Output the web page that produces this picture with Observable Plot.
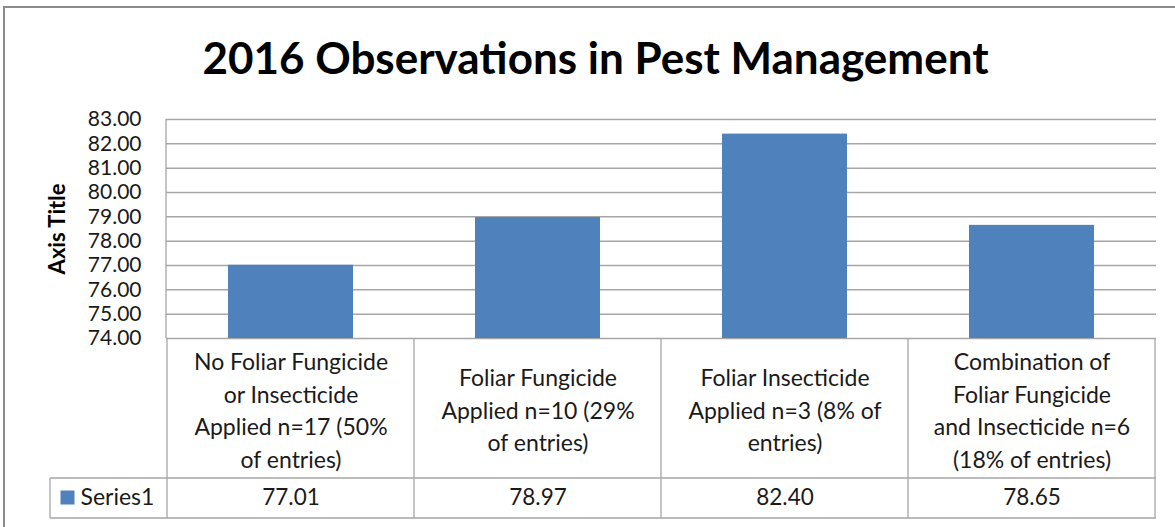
<!DOCTYPE html>
<html>
<head>
<meta charset="utf-8">
<script src="https://cdn.jsdelivr.net/npm/d3@7"></script>
<script src="https://cdn.jsdelivr.net/npm/@observablehq/plot@0.6"></script>
<style>
  html, body { margin: 0; padding: 0; background: #fff; overflow: hidden; }
  #wrap { position: relative; width: 1175px; height: 527px; }
  #border { position: absolute; left: 3px; top: 6px; width: 1300px; height: 700px; border: 2px solid #8c8c8c; box-sizing: border-box; }
  #chart { position: absolute; left: 0; top: 0; }
</style>
</head>
<body>
<div id="wrap"><div id="border"></div><div id="chart"></div></div>
<script>
const title = "2016 Observations in Pest Management";
const axisTitle = "Axis Title";
const seriesName = "Series1";
const categories = [
  "No Foliar Fungicide\nor Insecticide\nApplied n=17 (50%\nof entries)",
  "Foliar Fungicide\nApplied n=10 (29%\nof entries)",
  "Foliar Insecticide\nApplied n=3 (8% of\nentries)",
  "Combination of\nFoliar Fungicide\nand Insecticide n=6\n(18% of entries)"
];
const values = [77.01, 78.97, 82.40, 78.65];
const yTicks = [74, 75, 76, 77, 78, 79, 80, 81, 82, 83];

const data = categories.map((c, i) => ({category: c, value: values[i]}));

const gridColor = "#a6a6a6";
const barColor = "#4f81bd";
const textColor = "#1a1a1a";

const ROW1 = 140, ROW2 = 180, LEFTCELL = 116;

function tableLines(index, scales, values, dims) {
  const {x} = scales;
  const bw = x.bandwidth();
  const y0 = dims.height - dims.marginBottom;
  const xl = dims.marginLeft, xr = dims.width - dims.marginRight;
  const g = document.createElementNS("http://www.w3.org/2000/svg", "g");
  g.setAttribute("stroke", gridColor);
  g.setAttribute("stroke-width", "1.3");
  g.setAttribute("fill", "none");
  const segs = [];
  segs.push([xl, dims.marginTop, xl, y0]);
  const edges = categories.map(c => x(c)).concat([x(categories[categories.length - 1]) + bw]);
  for (const e of edges) segs.push([e, y0, e, y0 + ROW2]);
  segs.push([xl - LEFTCELL, y0 + ROW1, xr, y0 + ROW1]);
  segs.push([xl - LEFTCELL, y0 + ROW2, xr, y0 + ROW2]);
  segs.push([xl - LEFTCELL, y0 + ROW1, xl - LEFTCELL, y0 + ROW2]);
  for (const [x1, y1, x2, y2] of segs) {
    const l = document.createElementNS("http://www.w3.org/2000/svg", "line");
    l.setAttribute("x1", x1); l.setAttribute("y1", y1);
    l.setAttribute("x2", x2); l.setAttribute("y2", y2);
    g.appendChild(l);
  }
  return g;
}

const chart = Plot.plot({
  width: 1175,
  height: 527,
  marginLeft: 166,
  marginRight: 19,
  marginTop: 119,
  marginBottom: 189,
  style: {fontFamily: "Lato, sans-serif", color: textColor, background: "transparent"},
  x: {domain: categories, padding: 0, axis: null},
  y: {domain: [74, 83], label: null, axis: null},
  marks: [
    Plot.ruleY(yTicks, {stroke: gridColor, strokeWidth: 1.5}),
    Plot.barY(data, {x: "category", y1: 74, y2: "value", fill: barColor, insetLeft: 61, insetRight: 61}),
    tableLines,
    Plot.axisY(yTicks, {tickFormat: d => d.toFixed(2), tickSize: 0, tickPadding: 25, fontSize: 21, fill: textColor, label: null}),
    Plot.text([axisTitle], {frameAnchor: "left", textAnchor: "middle", lineAnchor: "middle", dx: -109, rotate: -90, fontSize: 22, fontWeight: "bold", fill: "#000"}),
    Plot.text([title], {frameAnchor: "top", lineAnchor: "middle", dx: -66, dy: -60, fontSize: 44, fontWeight: "bold", fill: "#000"}),
    Plot.text(data, {x: "category", y: () => 74, text: "category", dy: 70, fontSize: 23, lineHeight: 1.41, fill: textColor}),
    Plot.text(data, {x: "category", y: () => 74, text: d => d.value.toFixed(2), dy: 159, fontSize: 22.5, fill: textColor}),
    Plot.text([seriesName], {frameAnchor: "bottom-left", textAnchor: "start", lineAnchor: "middle", dx: -86, dy: 159, fontSize: 23, fill: textColor}),
    Plot.dot([seriesName], {frameAnchor: "bottom-left", dx: -99, dy: 159, symbol: "square", r: 7.9, fill: barColor, stroke: "none"})
  ]
});
document.getElementById("chart").appendChild(chart);
</script>
</body>
</html>
